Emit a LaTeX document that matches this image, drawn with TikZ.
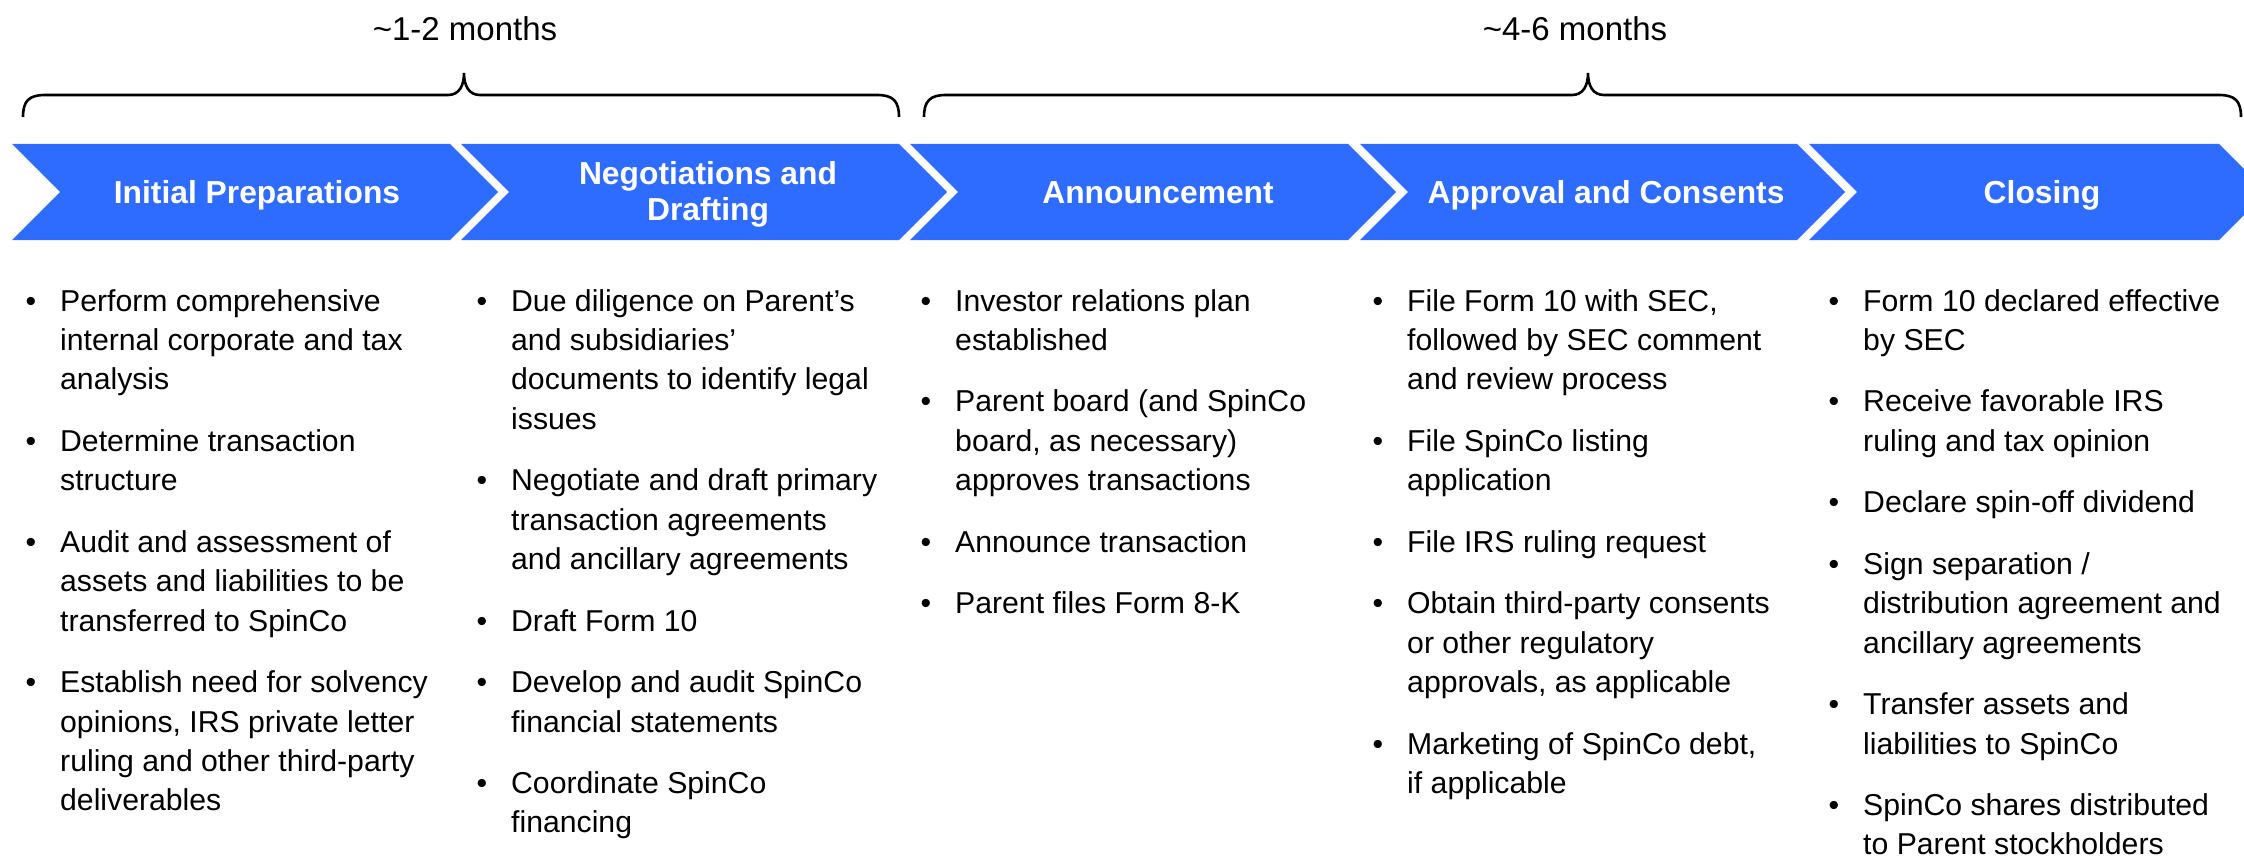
\documentclass[tikz,border=0pt]{standalone}
\usepackage{fontspec}
\setmainfont{Liberation Sans}
\definecolor{chev}{RGB}{46,107,255}
\newcommand{\itm}[1]{\ifvmode\noindent\fi\llap{•\hspace{24pt}}#1\par}
\newcommand{\igap}{\vspace{22pt}}
\newcommand{\nl}{\newline}
\newcommand{\colsetup}{\hyphenpenalty=10000 \exhyphenpenalty=10000 \spaceskip=8.4pt\relax}
\tikzset{
  chevron/.style={fill=chev, draw=none},
  head/.style={text=white, font=\fontsize{31.8}{36}\selectfont\bfseries, align=center, inner sep=0pt},
  col/.style={text width=400pt, align=left, inner sep=0pt, anchor=base west,
    font=\fontsize{30.2}{39.45}\selectfont, execute at begin node=\colsetup},
  brace/.style={draw=black, line width=2.6pt},
  dur/.style={font=\fontsize{33}{40}\selectfont, inner sep=0pt, anchor=base},
}
\begin{document}
\begin{tikzpicture}[x=1pt,y=-1pt]
\useasboundingbox (0,0) rectangle (2244,856);
% chevrons
\foreach \xl/\xr in {12/450, 461/899, 910/1348, 1360/1797, 1809/2219}{
  \fill[chevron] (\xl,144) -- (\xr,144) -- ({\xr+48},192) -- (\xr,240) -- (\xl,240) -- ({\xl+48},192) -- cycle;
}
% headers
\node[head, anchor=base] (h1) at (257,203) {Initial Preparations};
\node[head, anchor=center] (h2) at (708,194) {Negotiations and\\Drafting};
\node[head, anchor=base] (h3) at (1158,203) {Announcement};
\node[head, anchor=base] (h4) at (1606,203) {Approval and Consents};
\node[head, anchor=base] (h5) at (2042,203) {Closing};
% durations
\node[dur] (d1) at (465,41) {\char"7E 1-2 months};
\node[dur] (d2) at (1575,41) {\char"7E 4-6 months};
% braces
\draw[brace] (23,117) .. controls (23,101) and (29,95) .. (45,95) -- (448,95)
  .. controls (459,95) and (464,86) .. (464,73) .. controls (464,86) and (469,95) .. (480,95)
  -- (877,95) .. controls (893,95) and (899,101) .. (899,117);
\draw[brace] (924,117) .. controls (924,101) and (930,95) .. (946,95) -- (1572,95)
  .. controls (1583,95) and (1588,86) .. (1588,73) .. controls (1588,86) and (1593,95) .. (1604,95)
  -- (2219,95) .. controls (2235,95) and (2241,101) .. (2241,117);
% columns
\node[col] (c1) at (60,311) {%
\itm{Perform comprehensive\nl internal corporate and tax\nl analysis}\igap
\itm{Determine transaction\nl structure}\igap
\itm{Audit and assessment of\nl assets and liabilities to be\nl transferred to SpinCo}\igap
\itm{Establish need for solvency\nl opinions, IRS private letter\nl ruling and other third-party\nl deliverables}};
\node[col] (c2) at (511,311) {%
\itm{Due diligence on Parent’s\nl and subsidiaries’\nl documents to identify legal\nl issues}\igap
\itm{Negotiate and draft primary\nl transaction agreements\nl and ancillary agreements}\igap
\itm{Draft Form 10}\igap
\itm{Develop and audit SpinCo\nl financial statements}\igap
\itm{Coordinate SpinCo\nl financing}};
\node[col] (c3) at (955,311) {%
\itm{Investor relations plan\nl established}\igap
\itm{Parent board (and SpinCo\nl board, as necessary)\nl approves transactions}\igap
\itm{Announce transaction}\igap
\itm{Parent files Form 8-K}};
\node[col] (c4) at (1407,311) {%
\itm{File Form 10 with SEC,\nl followed by SEC comment\nl and review process}\igap
\itm{File SpinCo listing\nl application}\igap
\itm{File IRS ruling request}\igap
\itm{Obtain third-party consents\nl or other regulatory\nl approvals, as applicable}\igap
\itm{Marketing of SpinCo debt,\nl if applicable}};
\node[col] (c5) at (1863,311) {%
\itm{Form 10 declared effective\nl by SEC}\igap
\itm{Receive favorable IRS\nl ruling and tax opinion}\igap
\itm{Declare spin-off dividend}\igap
\itm{Sign separation /\nl distribution agreement and\nl ancillary agreements}\igap
\itm{Transfer assets and\nl liabilities to SpinCo}\igap
\itm{SpinCo shares distributed\nl to Parent stockholders}};
\end{tikzpicture}
\end{document}
